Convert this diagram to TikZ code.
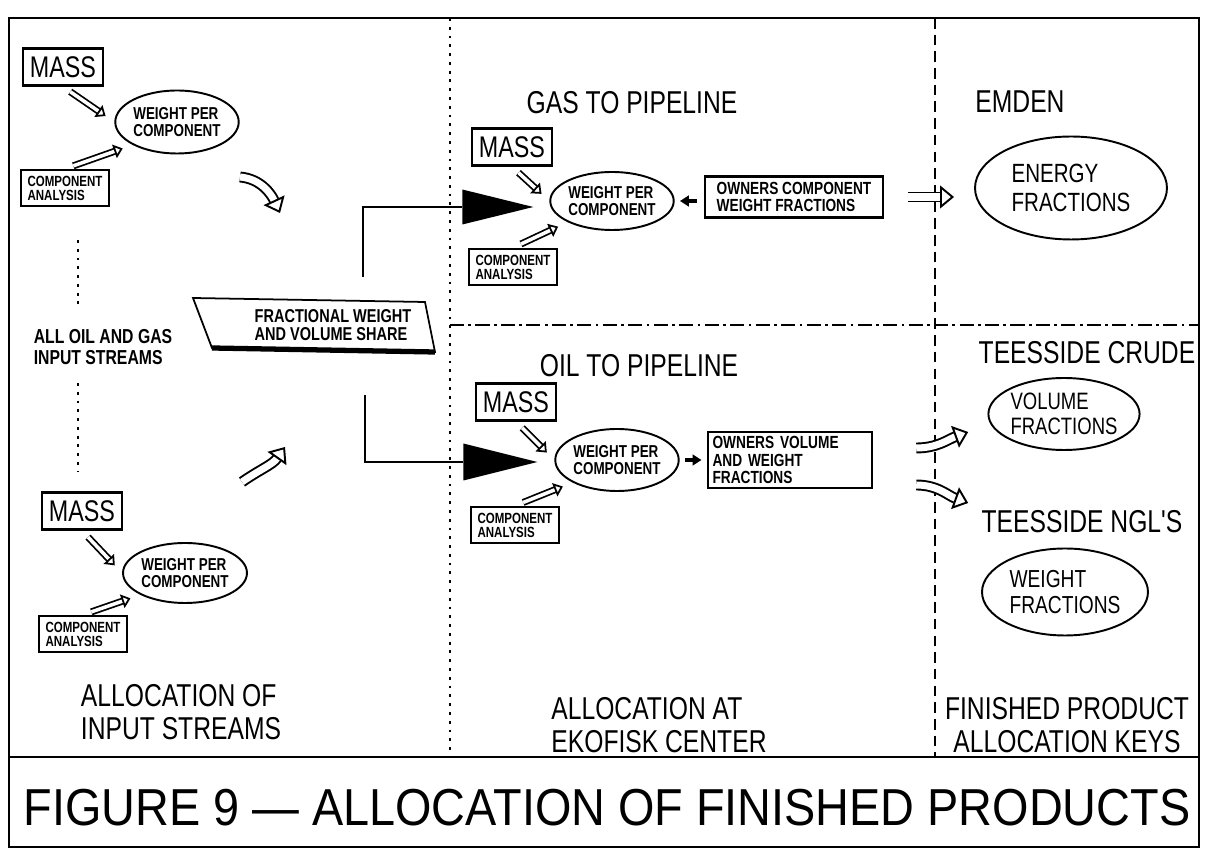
\documentclass[tikz,border=0pt]{standalone}
\usepackage{fontspec}
\newfontfamily\plotfont[FakeStretch=0.78]{Liberation Sans}
\newfontfamily\titlefont[FakeStretch=0.9]{Liberation Sans}
\usepackage{tikz}
\usetikzlibrary{arrows.meta, shapes.geometric, positioning}

\tikzset{
  box/.style={draw, line width=1.4pt, inner sep=0pt, align=left},
  massbox/.style={box, minimum width=1.6cm, minimum height=0.74cm,
                  font=\plotfont\fontsize{17}{17}\selectfont},
  compbox/.style={box, minimum width=1.76cm, minimum height=0.72cm,
                  font=\plotfont\bfseries\fontsize{8.4}{8}\selectfont},
  ownbox/.style={box, font=\plotfont\bfseries\fontsize{10}{10}\selectfont},
  oval/.style={ellipse, draw, line width=1.1pt, inner sep=0pt, align=left},
  weightoval/.style={oval, font=\plotfont\bfseries\fontsize{9.8}{10}\selectfont},
  heading/.style={font=\plotfont\fontsize{18}{18.5}\selectfont, align=left},
  tag/.style={font=\plotfont\bfseries\fontsize{11.5}{11.5}\selectfont, align=left},
  merge/.style={isosceles triangle, isosceles triangle stretches, fill=black,
                inner sep=0pt, anchor=west},
  feed/.style={double, double distance=2pt, line width=1pt,
               -{Triangle[open, length=5pt, width=8pt]},
               shorten <=5pt, shorten >=6pt},
  bigarrow/.style={double, double distance=4pt, line width=1.1pt,
                   -{Triangle[open, length=8pt, width=13pt]}},
  link/.style={line width=2.4pt, -{Triangle[length=5pt, width=6pt]}},
  coldots/.style={line width=1.3pt, dash pattern=on 1.6pt off 3.4pt},
  coldash/.style={line width=0.9pt, dash pattern=on 6pt off 3.5pt},
  rowdash/.style={line width=0.9pt, dash pattern=on 8pt off 2.5pt on 1.5pt off 2.5pt},
}

\begin{document}
\begin{tikzpicture}[x=0.02cm, y=0.02cm]
  \useasboundingbox (0,0) rectangle (1205,849);
  % frame and title strip
  \draw[line width=1.2pt] (9,2) rectangle (1199,831);
  \draw[line width=1.2pt] (9,92) -- (1199,92);
  \node[font=\titlefont\fontsize{29.6}{30}\selectfont] (fig) at (607,41)
    {FIGURE 9 — ALLOCATION OF FINISHED PRODUCTS};
  % column and row dividers
  \draw[coldots] (450,831) -- (450,92);
  \draw[coldash] (935,831) -- (935,92);
  \draw[rowdash] (450,524) -- (1199,524);

  % Allocation of input streams
  \node[massbox] (mass1) at (63,782) {MASS};
  \node[weightoval, minimum width=2.42cm, minimum height=1.26cm] (wpc1) at (177,727)
    {WEIGHT PER\\COMPONENT};
  \node[compbox] (ca1) at (65,661) {COMPONENT\\ANALYSIS};
  \draw[feed] (mass1.south) -- (wpc1.west);
  \draw[feed] (ca1.north) -- (wpc1.south west);
  \draw[coldots] (78,609) -- (78,539);
  \node[tag] (allin) at (103,502) {ALL OIL AND GAS\\INPUT STREAMS};
  \draw[coldots] (78,466) -- (78,377);
  \node[massbox] (mass2) at (82,338) {MASS};
  \node[weightoval, minimum width=2.48cm, minimum height=1.2cm] (wpc2) at (185,276)
    {WEIGHT PER\\COMPONENT};
  \node[compbox] (ca2) at (83,215) {COMPONENT\\ANALYSIS};
  \draw[feed] (mass2.south) -- (wpc2.west);
  \draw[feed] (ca2.north) -- (wpc2.south west);
  \node[heading] (inputs) at (181,137) {ALLOCATION OF\\INPUT STREAMS};
  % shares of the streams
  \draw[line width=1pt] (193,551) -- (425,547) -- (435,497) -- (212,501) -- cycle;
  \draw[line width=3pt] (212,501) -- (435,497);
  \node[font=\plotfont\bfseries\fontsize{10.6}{10.5}\selectfont, align=left] (share)
    at (333,524) {FRACTIONAL WEIGHT\\AND VOLUME SHARE};
  \draw[bigarrow] (240,672) to[out=-5, in=115] (280,636);
  \draw[bigarrow] (242,367) to[out=35, in=-125] (285,402);
  \coordinate (gasfork) at (363,572);
  \coordinate (oilfork) at (365,454);

  % Allocation at Ekofisk center: gas
  \node[heading] (gas) at (632,746) {GAS TO PIPELINE};
  \node[massbox] (mass3) at (512,702) {MASS};
  \node[merge, minimum height=1.42cm, minimum width=0.7cm] (gastri) at (462,642) {};
  \node[weightoval, minimum width=2.22cm, minimum height=1.16cm] (wpc3) at (612,648)
    {WEIGHT PER\\COMPONENT};
  \node[compbox] (ca3) at (513,582) {COMPONENT\\ANALYSIS};
  \node[ownbox, minimum width=3.56cm, minimum height=0.82cm] (owngas) at (794,652)
    {OWNERS COMPONENT\\WEIGHT FRACTIONS};
  \draw[line width=1.1pt] (gasfork) |- (gastri.west);
  \draw[feed] (mass3.south) -- (wpc3.west);
  \draw[feed] (ca3.north) -- (wpc3.south west);
  \draw[link, shorten <=4pt, shorten >=3pt] (owngas.west |- wpc3.east) -- (wpc3.east);

  % Allocation at Ekofisk center: oil
  \node[heading] (oil) at (639,483) {OIL TO PIPELINE};
  \node[massbox] (mass4) at (516,447) {MASS};
  \node[merge, minimum height=1.48cm, minimum width=0.74cm] (oiltri) at (463,387) {};
  \node[weightoval, minimum width=2.22cm, minimum height=1.24cm] (wpc4) at (617,389)
    {WEIGHT PER\\COMPONENT};
  \node[compbox] (ca4) at (515,324) {COMPONENT\\ANALYSIS};
  \node[ownbox, minimum width=3.28cm, minimum height=1.12cm, text width=3.1cm] (ownoil)
    at (790,389) {OWNERS VOLUME\\AND WEIGHT\\FRACTIONS};
  \draw[line width=1.1pt] (oilfork) |- (oiltri.west);
  \draw[feed] (mass4.south) -- (wpc4.west);
  \draw[feed] (ca4.north) -- (wpc4.south west);
  \draw[link, shorten <=3pt, shorten >=3pt] (wpc4.east) -- (wpc4.east -| ownoil.west);
  \node[heading] (ekofisk) at (659,124) {ALLOCATION AT\\EKOFISK CENTER};

  % Finished product allocation keys
  \node[heading] (emden) at (1020,747) {EMDEN};
  \node[oval, minimum width=3.84cm, minimum height=2.06cm,
        font=\plotfont\fontsize{15}{17}\selectfont] (energy) at (1071,661)
    {ENERGY\\FRACTIONS};
  \node[heading] (crude) at (1087,496) {TEESSIDE CRUDE};
  \node[oval, minimum width=2.96cm, minimum height=1.44cm,
        font=\plotfont\fontsize{13.5}{14}\selectfont] (volfr) at (1064,435)
    {VOLUME\\FRACTIONS};
  \node[heading] (ngl) at (1082,327) {TEESSIDE NGL'S};
  \node[oval, minimum width=3.32cm, minimum height=1.74cm,
        font=\plotfont\fontsize{14}{14.5}\selectfont] (wtfr) at (1065,257)
    {WEIGHT\\FRACTIONS};
  \draw[bigarrow, shorten <=0.48cm, shorten >=0.4cm] (owngas.east) -- (owngas.east -| energy.west);
  \draw[bigarrow] ([shift={(43,12)}]ownoil.east) to[out=0, in=200] ([shift={(95,28)}]ownoil.east);
  \draw[bigarrow] ([shift={(43,-25)}]ownoil.east) to[out=0, in=160] ([shift={(95,-43)}]ownoil.east);
  \node[heading, align=center] (keys) at (1067,124) {FINISHED PRODUCT\\ALLOCATION KEYS};
\end{tikzpicture}
\end{document}
